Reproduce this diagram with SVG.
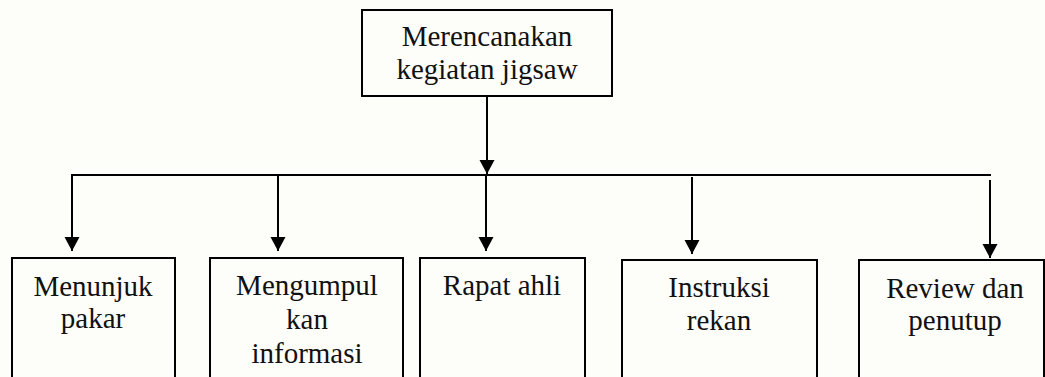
<svg xmlns="http://www.w3.org/2000/svg" width="1045" height="377" viewBox="0 0 1045 377">
<defs>
<style>
.box{fill:none;stroke:#000;stroke-width:2}
.lbl{font-family:"Liberation Serif","Times New Roman",serif;font-size:29px;fill:#111;text-anchor:middle}
.con{fill:none;stroke:#000;stroke-width:2}
</style>
<marker id="arr" markerUnits="userSpaceOnUse" markerWidth="15" markerHeight="16" refX="14" refY="8" orient="auto">
<path d="M0,0.5 L14,8 L0,15.5 z" fill="#000"/>
</marker>
</defs>
<rect x="0" y="0" width="1045" height="377" fill="#fdfdf9"/>
<g id="connectors">
<line class="con" x1="487" y1="96" x2="487" y2="174" marker-end="url(#arr)"/>
<line class="con" x1="71" y1="175" x2="991" y2="175"/>
<line class="con" x1="72" y1="175" x2="72" y2="251" marker-end="url(#arr)"/>
<line class="con" x1="278" y1="175" x2="278" y2="251" marker-end="url(#arr)"/>
<line class="con" x1="486" y1="175" x2="486" y2="251" marker-end="url(#arr)"/>
<line class="con" x1="692" y1="177" x2="692" y2="254" marker-end="url(#arr)"/>
<line class="con" x1="990" y1="180" x2="990" y2="258" marker-end="url(#arr)"/>
</g>
<g id="node-top">
<rect class="box" x="362" y="10" width="250" height="86"/>
<text class="lbl" x="487" y="46">Merencanakan</text>
<text class="lbl" x="487" y="79">kegiatan jigsaw</text>
</g>
<g id="node-1">
<rect class="box" x="12" y="258" width="163" height="140"/>
<text class="lbl" x="93" y="296">Menunjuk</text>
<text class="lbl" x="93" y="328">pakar</text>
</g>
<g id="node-2">
<rect class="box" x="210" y="258" width="193" height="140"/>
<text class="lbl" x="307" y="295">Mengumpul</text>
<text class="lbl" x="307" y="329">kan</text>
<text class="lbl" x="307" y="363">informasi</text>
</g>
<g id="node-3">
<rect class="box" x="420" y="258" width="165" height="140"/>
<text class="lbl" x="502" y="295">Rapat ahli</text>
</g>
<g id="node-4">
<rect class="box" x="622" y="260" width="195" height="140"/>
<text class="lbl" x="719" y="297">Instruksi</text>
<text class="lbl" x="719" y="330">rekan</text>
</g>
<g id="node-5">
<rect class="box" x="859" y="260" width="185" height="140"/>
<text class="lbl" x="955" y="298">Review dan</text>
<text class="lbl" x="955" y="330">penutup</text>
</g>
</svg>
